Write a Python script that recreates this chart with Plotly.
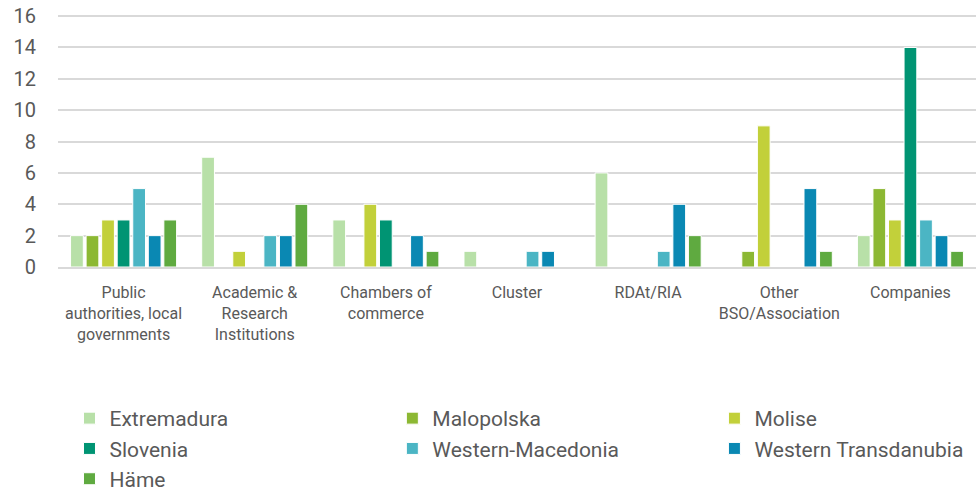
import plotly.graph_objects as go

categories = [
    "Public<br>authorities, local<br>governments",
    "Academic &<br>Research<br>Institutions",
    "Chambers of<br>commerce",
    "Cluster",
    "RDAt/RIA",
    "Other<br>BSO/Association",
    "Companies",
]
series_names = ["Extremadura", "Malopolska", "Molise", "Slovenia",
                "Western-Macedonia", "Western Transdanubia", "Häme"]
extremadura = [2, 7, 3, 1, 6, 0, 2]
malopolska = [2, 0, 0, 0, 0, 1, 5]
molise = [3, 1, 4, 0, 0, 9, 3]
slovenia = [3, 0, 3, 0, 0, 0, 14]
western_macedonia = [5, 2, 0, 1, 1, 0, 3]
western_transdanubia = [2, 2, 2, 1, 4, 5, 2]
hame = [3, 4, 1, 0, 2, 1, 1]
y_ticks = [0, 2, 4, 6, 8, 10, 12, 14, 16]

values = [extremadura, malopolska, molise, slovenia,
          western_macedonia, western_transdanubia, hame]
colors = ["#B8E0A8", "#8CB833", "#C2D03A", "#009473",
          "#4BB5C4", "#0A88B3", "#5FAA40"]
# legend column (Excel-style 3-column layout, row-major order)
legend_ids = ["legend", "legend2", "legend3", "legend",
              "legend2", "legend3", "legend"]

font_family = "Roboto, Arial, sans-serif"

fig = go.Figure()
for name, vals, c, lg in zip(series_names, values, colors, legend_ids):
    fig.add_trace(go.Bar(
        x=categories, y=vals, name=name, legend=lg,
        marker=dict(color=c, line=dict(color="white", width=1)),
    ))

leg_common = dict(orientation="v", y=0.196, yref="container", xref="container",
                  yanchor="top", xanchor="left",
                  font=dict(size=21, color="#595959"), traceorder="normal",
                  tracegroupgap=0, itemwidth=30, bgcolor="rgba(0,0,0,0)")

fig.update_layout(
    barmode="group",
    bargap=0.17,
    bargroupgap=0.18,
    width=976, height=495,
    margin=dict(l=58, r=0, t=15, b=228, autoexpand=False),
    plot_bgcolor="white", paper_bgcolor="white",
    font=dict(family=font_family, color="#595959", size=15),
    xaxis=dict(showgrid=False, showline=True, linecolor="#D9D9D9", linewidth=2,
               ticks="", automargin=False, ticklabelstandoff=10,
               tickfont=dict(size=16, color="#595959")),
    yaxis=dict(range=[0, 16.07], tickvals=y_ticks, showgrid=True,
               gridcolor="#D9D9D9", gridwidth=1.5, zeroline=False,
               automargin=False, ticklabeloverflow="allow",
               tickfont=dict(size=20, color="#595959"), ticklabelstandoff=21),
    legend=dict(x=0.0712, **leg_common),
    legend2=dict(x=0.402, **leg_common),
    legend3=dict(x=0.732, **leg_common),
)

# remove the default 8px page margin so the figure fills the window exactly
fig.write_html("out.html",
               config={"displayModeBar": False},
               post_script="document.body.style.margin='0';")
